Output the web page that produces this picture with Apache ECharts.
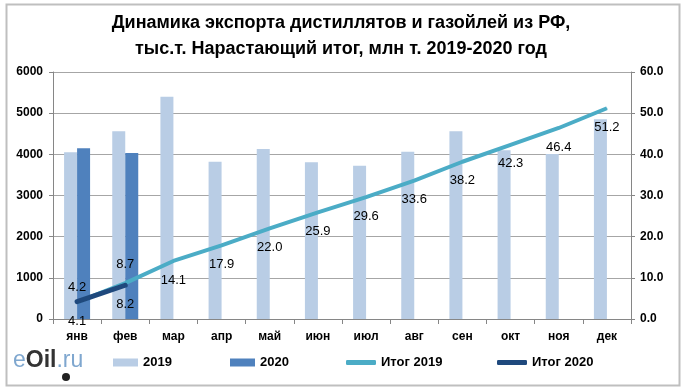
<!DOCTYPE html>
<html><head><meta charset="utf-8">
<script src="https://cdn.jsdelivr.net/npm/echarts@6/dist/echarts.min.js"></script>
<style>html,body{margin:0;padding:0;background:#fff}#c{width:682px;height:389px}</style>
</head><body><div id="c"></div>
<script>
const months = ['янв','фев','мар','апр','май','июн','июл','авг','сен','окт','ноя','дек'];
const exp2019 = [4050, 4560, 5400, 3820, 4130, 3810, 3720, 4060, 4560, 4100, 4010, 4850];
const exp2020 = [4150, 4030, '-', '-', '-', '-', '-', '-', '-', '-', '-', '-'];
const total2019 = [4.1, 8.7, 14.1, 17.9, 22.0, 25.9, 29.6, 33.6, 38.2, 42.3, 46.4, 51.2];
const total2020 = [4.2, 8.2];
const leftTicks = [0, 6000, 1000];
const rightTicks = [0, 60, 10];

const F = '"Liberation Sans", Arial, sans-serif';
const chart = echarts.init(document.getElementById('c'), null, {renderer: 'canvas'});

const t19 = total2019.map((v, i) => i === 1
  ? {value: v, label: {position: 'top', distance: 12}}
  : v);
const t20 = total2020.map((v, i) => i === 0
  ? {value: v, label: {position: 'top', distance: 7}}
  : {value: v, label: {position: 'bottom', distance: 12}});

const lbl = {show: true, fontFamily: F, fontSize: 13, color: '#000', formatter: p => p.value.toFixed(1)};

function legend(name, left, icon, w, h) {
  return {data: [name], left: left, top: 356, icon: icon, itemWidth: w, itemHeight: h,
    textStyle: {fontFamily: F, fontSize: 13, fontWeight: 'bold', color: '#000'}, padding: 0};
}

chart.setOption({
  animation: false,
  title: {
    text: 'Динамика экспорта дистиллятов и газойлей из РФ,\nтыс.т. Нарастающий итог, млн т. 2019-2020 год',
    left: 'center', top: 5,
    textStyle: {fontFamily: F, fontSize: 18, fontWeight: 'bold', color: '#000', lineHeight: 26}
  },
  legend: [
    legend('2019', 113, 'rect', 25, 8),
    legend('2020', 230, 'rect', 25, 8),
    legend('Итог 2019', 346, 'roundRect', 30, 5),
    legend('Итог 2020', 497, 'roundRect', 30, 5)
  ],
  grid: {left: 53, right: 51, top: 72, bottom: 70},
  xAxis: {
    type: 'category', data: months,
    axisLine: {lineStyle: {color: '#868686'}},
    axisTick: {show: true, length: 5, lineStyle: {color: '#868686'}},
    axisLabel: {fontFamily: F, fontSize: 12, fontWeight: 'bold', color: '#000', margin: 12}
  },
  yAxis: [{
    type: 'value', min: leftTicks[0], max: leftTicks[1], interval: leftTicks[2],
    axisLine: {show: true, lineStyle: {color: '#868686'}},
    axisTick: {show: true, length: 4, lineStyle: {color: '#868686'}},
    splitLine: {lineStyle: {color: '#A6A6A6'}},
    axisLabel: {fontFamily: F, fontSize: 12, fontWeight: 'bold', color: '#000', margin: 10, formatter: v => String(v)}
  }, {
    type: 'value', min: rightTicks[0], max: rightTicks[1], interval: rightTicks[2],
    axisLine: {show: true, lineStyle: {color: '#868686'}},
    axisTick: {show: true, length: 4, lineStyle: {color: '#868686'}},
    splitLine: {show: false},
    axisLabel: {fontFamily: F, fontSize: 12, fontWeight: 'bold', color: '#000', margin: 9, formatter: v => v.toFixed(1)}
  }],
  series: [
    {name: '2019', type: 'bar', data: exp2019, barWidth: 13, barGap: '0%', itemStyle: {color: '#B9CDE5'}},
    {name: '2020', type: 'bar', data: exp2020, barWidth: 13, itemStyle: {color: '#4F81BD'}},
    {name: 'Итог 2019', type: 'line', yAxisIndex: 1, data: t19, symbol: 'circle', symbolSize: 1,
     lineStyle: {width: 4, color: '#4BACC6'}, itemStyle: {color: '#4BACC6'}, z: 3,
     label: Object.assign({}, lbl, {position: 'bottom', distance: 12})},
    {name: 'Итог 2020', type: 'line', yAxisIndex: 1, data: t20, symbol: 'circle', symbolSize: 1,
     lineStyle: {width: 5, color: '#1F497D', cap: 'round'}, itemStyle: {color: '#1F497D'}, z: 4,
     label: lbl}
  ],
  graphic: [
    {type: 'rect', left: 4, top: 2, shape: {width: 673, height: 381}, style: {fill: 'none', stroke: '#BFBFBF', lineWidth: 2}, silent: true},
    {type: 'text', left: 13, top: 349, style: {
      text: '{e|e}{o|Oil}{r|.ru}',
      rich: {
        e: {fontFamily: F, fontSize: 23, fill: '#7FA7CF'},
        o: {fontFamily: F, fontSize: 23, fontWeight: 'bold', fill: '#333'},
        r: {fontFamily: F, fontSize: 23, fill: '#7FA7CF'}
      }}},
    {type: 'circle', shape: {cx: 66, cy: 377, r: 4}, style: {fill: '#222'}}
  ]
});
</script></body></html>
